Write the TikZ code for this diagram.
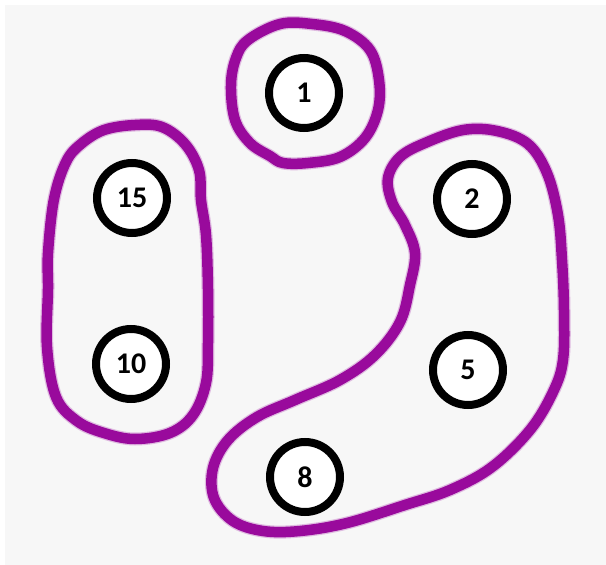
\documentclass[tikz,border=0pt]{standalone}
\usepackage{fontspec}
\setmainfont{Carlito}
\definecolor{bggray}{HTML}{F7F7F7}
\definecolor{loopcol}{HTML}{990A9C}
\tikzset{
  vert/.style={circle, draw=black, line width=8pt, fill=white, minimum size=70pt, inner sep=0pt,
    font=\fontsize{30}{30}\selectfont\bfseries},
  grouploop/.style={draw=loopcol, line width=10.5pt, line join=round},
  loopglow/.style={draw=loopcol, line width=13pt, opacity=0.25, line join=round}
}
\begin{document}
\begin{tikzpicture}[x=1pt, y=-1pt]
\useasboundingbox (0,0) rectangle (606,565);
\fill[white] (0,0) rectangle (606,565);
\fill[bggray] (5,5) rectangle (606,565);
% group loops
\foreach \st in {loopglow, grouploop}{
  \draw[\st] plot[smooth cycle, tension=0.6] coordinates {
    (248,40) (280,24) (312,24) (345,31) (370,50) (379,80) (378,110) (365,138)
    (340,157) (308,163) (283,163) (270,156) (250,143) (235,120) (231,85) (236,58)};
  \draw[\st] plot[smooth cycle, tension=0.6] coordinates {
    (104,130) (135,125) (162,127) (185,144) (199,170) (201,200) (206,235) (208,289)
    (208,343) (206,383) (193,415) (170,433) (135,439) (104,433) (77,421) (56,397)
    (47,347) (48,289) (48,253) (54,199) (66,162) (81,144)};
  \draw[\st] plot[smooth cycle, tension=0.6] coordinates {
    (388,178) (400,157) (425,143) (463,130) (497,131) (528,144) (547,173) (558,215)
    (562,260) (564,310) (563,360) (553,392) (530,430) (492,467) (450,490) (405,505)
    (347,523) (300,531) (263,531) (233,521) (214,498) (213,468) (228,440) (257,417)
    (295,400) (340,380) (375,355) (400,322) (410,285) (415,253) (405,225) (392,202)};
}
% vertices
\node[vert] (n1)  at (304,93)  {1};
\node[vert] (n15) at (132,198) {15};
\node[vert] (n2)  at (472,199) {2};
\node[vert] (n10) at (131,364) {10};
\node[vert] (n5)  at (468,370) {5};
\node[vert] (n8)  at (305,477) {8};
\end{tikzpicture}
\end{document}
